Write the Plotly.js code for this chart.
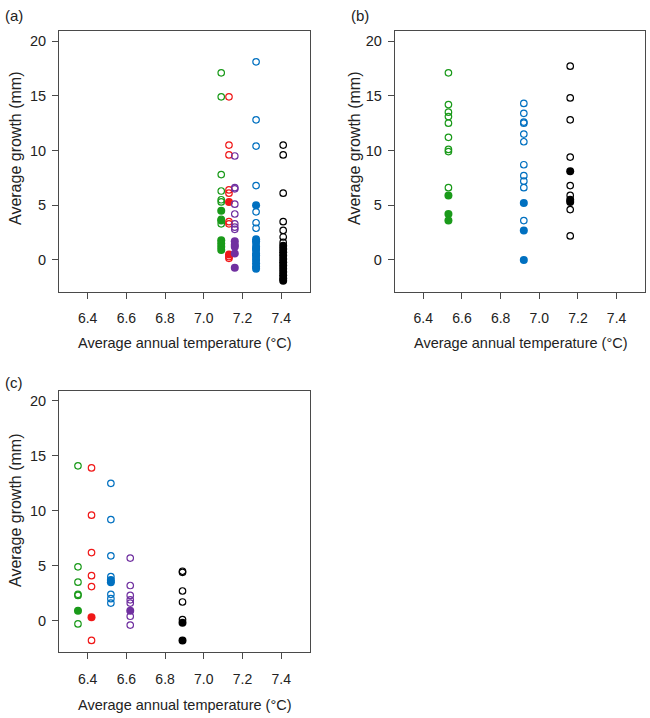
<!DOCTYPE html>
<html><head><meta charset="utf-8">
<script src="https://cdn.plot.ly/plotly-3.0.1.min.js"></script>
<style>html,body{margin:0;padding:0;background:#fff}#chart{width:650px;height:718px}</style>
</head><body><div id="chart"></div>
<script>
// ---------- data ----------
const groupNames = ['green', 'red', 'purple', 'blue', 'black'];
const groupColors = {green: '#1a9a1a', red: '#f01818', purple: '#7030a0', blue: '#0070c0', black: '#000000'};

// Panel (a)
const aTemp = {green: 7.09, red: 7.13, purple: 7.16, blue: 7.27, black: 7.41};
const aOpen = {
  green: [17.1, 14.9, 7.8, 6.3, 5.5, 5.3, 3.7, 3.3],
  red: [14.9, 10.5, 9.6, 6.4, 6.1, 3.5, 3.3, 0.3, 0.15],
  purple: [9.5, 6.6, 6.5, 5.1, 4.2, 3.3, 3.0, 2.8],
  blue: [18.1, 12.8, 10.4, 6.8, 4.4, 3.4, 2.9, 1.5, 0.9, 0.2],
  black: [10.5, 9.6, 6.1, 3.5, 2.7, 2.1, 1.6]
};
const aFilled = {
  green: [4.5, 3.6, 1.8, 1.5, 1.2, 0.9],
  red: [5.3, 0.5],
  purple: [1.7, 1.4, 1.2, 0.6, -0.7],
  blue: [5.0, 1.9, 1.7, 1.2, 1.0, 0.6, 0.4, 0.0, -0.3, -0.6, -0.8],
  black: [1.3, 1.0, 0.7, 0.4, 0.1, -0.2, -0.5, -0.8, -1.1, -1.4, -1.7, -1.9]
};

// Panel (b)
const bTemp = {green: 6.53, blue: 6.92, black: 7.16};
const bOpen = {
  green: [17.1, 14.2, 13.5, 13.1, 12.5, 11.2, 10.1, 9.9, 6.6],
  blue: [14.3, 13.4, 12.6, 12.5, 11.5, 10.8, 8.7, 7.7, 7.2, 6.6, 3.6],
  black: [17.7, 14.8, 12.8, 9.4, 6.8, 5.9, 4.6, 2.2]
};
const bFilled = {
  green: [5.9, 4.2, 3.6],
  blue: [5.2, 2.7, 0.0],
  black: [8.1, 5.5, 5.3]
};

// Panel (c)
const cTemp = {green: 6.35, red: 6.42, blue: 6.52, purple: 6.62, black: 6.89};
const cOpen = {
  green: [14.1, 4.9, 3.5, 2.4, 2.3, -0.3],
  red: [13.9, 9.6, 6.2, 4.1, 3.1, -1.8],
  blue: [12.5, 9.2, 5.9, 4.0, 2.4, 2.0, 1.6],
  purple: [5.7, 3.2, 2.3, 1.9, 1.6, 0.4, -0.4],
  black: [4.5, 4.4, 2.7, 1.7, 0.1]
};
const cFilled = {
  green: [0.9],
  red: [0.3],
  blue: [3.7, 3.5],
  purple: [0.9],
  black: [-0.2, -1.8]
};

const xTickVals = [6.4, 6.6, 6.8, 7.0, 7.2, 7.4];
const xTickText = ['6.4', '6.6', '6.8', '7.0', '7.2', '7.4'];
const yTickVals = [0, 5, 10, 15, 20];
const xTitle = 'Average annual temperature (°C)';
const yTitle = 'Average growth (mm)';
const panelLabels = ['(a)', '(b)', '(c)'];

// ---------- traces ----------
const traces = [];
function addPanel(temp, open, filled, xa, ya) {
  Object.keys(temp).forEach(g => {
    if (open[g]) traces.push({
      type: 'scatter', mode: 'markers', xaxis: xa, yaxis: ya,
      x: open[g].map(() => temp[g]), y: open[g], showlegend: false, hoverinfo: 'x+y',
      marker: {symbol: 'circle-open', size: 6.5, color: groupColors[g], line: {width: 1.2, color: groupColors[g]}}
    });
    if (filled[g]) traces.push({
      type: 'scatter', mode: 'markers', xaxis: xa, yaxis: ya,
      x: filled[g].map(() => temp[g]), y: filled[g], showlegend: false, hoverinfo: 'x+y',
      marker: {symbol: 'circle', size: 8, color: groupColors[g], line: {width: 0}}
    });
  });
}
addPanel(aTemp, aOpen, aFilled, 'x', 'y');
addPanel(bTemp, bOpen, bFilled, 'x2', 'y2');
addPanel(cTemp, cOpen, cFilled, 'x3', 'y3');

// ---------- layout ----------
const W = 650, H = 718;
const fontFam = 'Liberation Sans, Arial, sans-serif';
const lineCol = '#4a4a4a';
function xAxis(l, r, anchor) {
  return {
    domain: [l / W, r / W], anchor: anchor, range: [6.252, 7.548],
    tickvals: xTickVals, ticktext: xTickText, ticks: 'outside', ticklen: 6, tickwidth: 1, tickcolor: lineCol,
    ticklabelstandoff: 8,
    showline: true, mirror: true, linecolor: lineCol, linewidth: 1,
    showgrid: false, zeroline: false, tickfont: {family: fontFam, size: 14, color: '#222'}
  };
}
function yAxis(top, bottom, anchor) {
  return {
    domain: [1 - bottom / H, 1 - top / H], anchor: anchor, range: [-2.88, 20.88],
    tickvals: yTickVals, ticks: 'outside', ticklen: 6, tickwidth: 1, tickcolor: lineCol,
    ticklabelstandoff: 3,
    showline: true, mirror: true, linecolor: lineCol, linewidth: 1,
    showgrid: false, zeroline: false, tickfont: {family: fontFam, size: 14.5, color: '#222'}
  };
}

const ann = [];
function txt(text, x, y, size, angle) {
  ann.push({text: text, xref: 'paper', yref: 'paper', x: x / W, y: 1 - y / H,
    xanchor: 'center', yanchor: 'middle', showarrow: false, textangle: angle || 0,
    font: {family: fontFam, size: size, color: '#222'}});
}
// axis titles
txt(xTitle, 184, 343, 14.5);
txt(xTitle, 520, 343, 14.5);
txt(xTitle, 184, 705, 14.5);
txt(yTitle, 15, 148, 16, -90);
txt(yTitle, 354, 148, 16, -90);
txt(yTitle, 15, 510, 16, -90);
// panel labels
txt(panelLabels[0], 14, 15, 15);
txt(panelLabels[1], 360, 15, 15);
txt(panelLabels[2], 14, 382, 15);

const layout = {
  width: W, height: H, margin: {l: 0, r: 0, t: 0, b: 0},
  paper_bgcolor: '#fff', plot_bgcolor: '#fff', showlegend: false,
  font: {family: fontFam, color: '#222'},
  xaxis: xAxis(59.0, 309.9, 'y'),
  yaxis: yAxis(31.4, 291.5, 'x'),
  xaxis2: xAxis(394.7, 645.2, 'y2'),
  yaxis2: yAxis(31.4, 291.5, 'x2'),
  xaxis3: xAxis(59.0, 309.9, 'y3'),
  yaxis3: yAxis(391.3, 652.3, 'x3'),
  annotations: ann
};

Plotly.newPlot('chart', traces, layout, {staticPlot: true, displayModeBar: false});
</script>
</body></html>
